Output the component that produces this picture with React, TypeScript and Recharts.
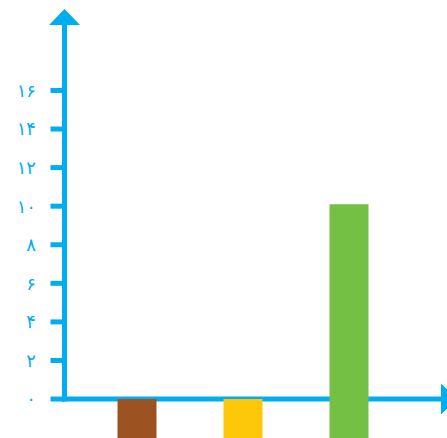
import React from 'react';
import { BarChart, Bar, XAxis, YAxis, Cell, usePlotArea } from 'recharts';

const categories = ['قهوه‌ای', 'زرد', 'سبز'];
const barLows = [-2.1, -2.1, -2.1];
const barHighs = [0, 0, 10.1];
const barColors = ['#9C5221', '#FDC70A', '#74C044'];
const yTicks = [0, 2, 4, 6, 8, 10, 12, 14, 16];
const Y_DOMAIN: [number, number] = [-2.02, 20.69];

const BLUE = '#00AEEF';

const data = categories.map((name, i) => ({ name, range: [barLows[i], barHighs[i]] }));

const toPersian = (v: number) =>
  String(v).replace(/[0-9]/g, (d) => String.fromCharCode(0x06f0 + Number(d)));

const AxisLayer = () => {
  const area = usePlotArea();
  if (!area) return null;
  const { x, y, width, height } = area;
  const yPix = (v: number) => y + ((Y_DOMAIN[1] - v) / (Y_DOMAIN[1] - Y_DOMAIN[0])) * height;
  const ax = x + 0.5;
  const y0 = yPix(0);
  const arrowTopBase = 25;
  const arrowTip = 9;
  const right = x + width - 6;
  return (
    <g>
      <line x1={ax} y1={arrowTopBase} x2={ax} y2={y0 + 2.5} stroke={BLUE} strokeWidth={5} />
      <line x1={ax - 2.5} y1={y0} x2={right} y2={y0} stroke={BLUE} strokeWidth={5} />
      <polygon
        points={`${ax},${arrowTip} ${ax - 15.5},${arrowTopBase} ${ax + 15.5},${arrowTopBase}`}
        fill={BLUE}
      />
      <polygon
        points={`${right + 16},${y0} ${right},${y0 - 15.5} ${right},${y0 + 15.5}`}
        fill={BLUE}
      />
    </g>
  );
};

export default function App() {
  return (
    <div style={{ position: 'absolute', left: 0, top: 0, width: 447, height: 438, background: '#fff' }}>
      <BarChart width={447} height={438} data={data} margin={{ top: 0, right: 0, bottom: 0, left: 0 }}>
        <XAxis dataKey="name" hide padding={{ left: 19.5, right: 45.5 }} />
        <YAxis
          width={64}
          domain={Y_DOMAIN}
          allowDataOverflow
          ticks={yTicks}
          interval={0}
          axisLine={false}
          tickLine={{ stroke: BLUE, strokeWidth: 5 }}
          tickSize={13.5}
          tickMargin={14.5}
          tickFormatter={toPersian}
          tick={{ fill: BLUE, fontSize: 18, fontFamily: 'DejaVu Sans', letterSpacing: 2 }}
        />
        <Bar dataKey="range" barSize={39} isAnimationActive={false}>
          {data.map((d, i) => (
            <Cell key={d.name} fill={barColors[i]} />
          ))}
        </Bar>
        <AxisLayer />
      </BarChart>
    </div>
  );
}
